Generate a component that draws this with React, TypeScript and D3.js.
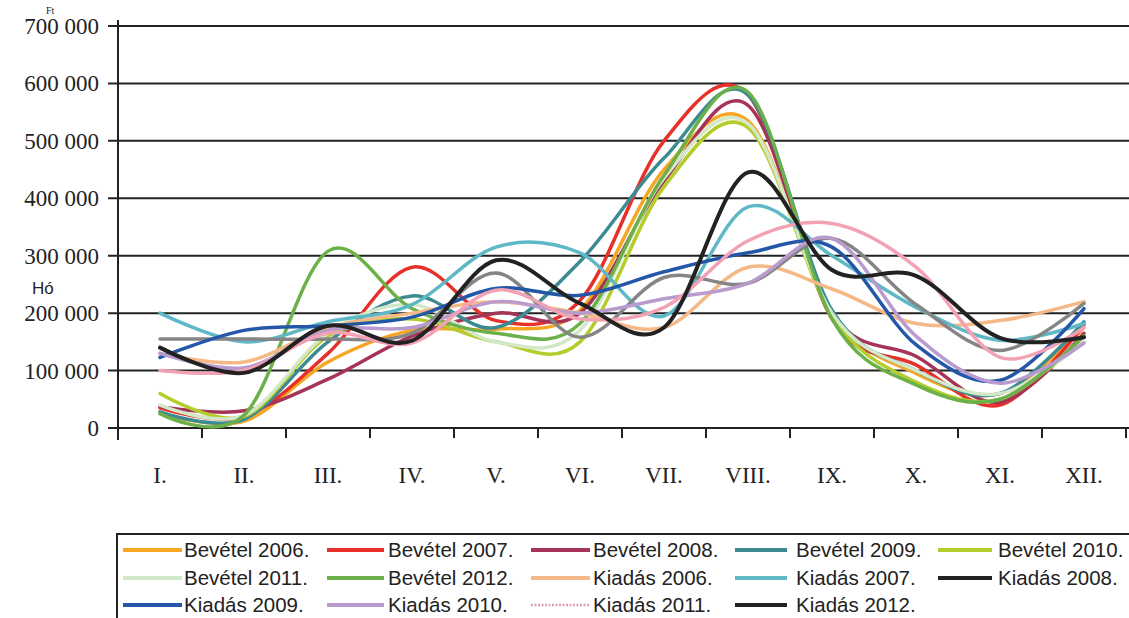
import React from "react";
import * as d3 from "d3";

const months = ["I.", "II.", "III.", "IV.", "V.", "VI.", "VII.", "VIII.", "IX.", "X.", "XI.", "XII."];
const yTicks = [0, 100000, 200000, 300000, 400000, 500000, 600000, 700000];

const seriesNames = [
  "Bevétel 2006.", "Bevétel 2007.", "Bevétel 2008.", "Bevétel 2009.", "Bevétel 2010.",
  "Bevétel 2011.", "Bevétel 2012.", "Kiadás 2006.", "Kiadás 2007.", "Kiadás 2008.",
  "Kiadás 2009.", "Kiadás 2010.", "Kiadás 2011.", "Kiadás 2012.",
];

const bevetel2006 = [25000, 12000, 115000, 170000, 172000, 205000, 450000, 535000, 200000, 95000, 60000, 175000];
const bevetel2007 = [35000, 20000, 130000, 280000, 187000, 222000, 500000, 580000, 190000, 110000, 40000, 180000];
const bevetel2008 = [37000, 30000, 85000, 160000, 200000, 200000, 430000, 562000, 200000, 125000, 45000, 165000];
const bevetel2009 = [28000, 15000, 150000, 230000, 175000, 290000, 470000, 580000, 205000, 100000, 60000, 185000];
const bevetel2010 = [60000, 20000, 160000, 190000, 150000, 150000, 420000, 523000, 195000, 80000, 50000, 160000];
const bevetel2011 = [40000, 22000, 165000, 215000, 150000, 170000, 435000, 530000, 200000, 100000, 60000, 150000];
const bevetel2012 = [25000, 22000, 308000, 208000, 165000, 182000, 440000, 585000, 190000, 75000, 50000, 160000];
const kiadas2006 = [130000, 115000, 175000, 200000, 220000, 200000, 175000, 280000, 242000, 182000, 187000, 220000];
const kiadas2007 = [200000, 150000, 185000, 215000, 315000, 305000, 195000, 385000, 300000, 210000, 153000, 182000];
const kiadas2008 = [155000, 155000, 155000, 165000, 270000, 158000, 262000, 252000, 330000, 215000, 135000, 217000];
const kiadas2009 = [123000, 170000, 178000, 193000, 243000, 231000, 272000, 305000, 315000, 145000, 83000, 208000];
const kiadas2010 = [130000, 105000, 170000, 175000, 220000, 200000, 225000, 252000, 330000, 160000, 78000, 148000];
const kiadas2011 = [100000, 100000, 165000, 148000, 240000, 190000, 210000, 326000, 356000, 280000, 123000, 175000];
const kiadas2012 = [140000, 96000, 178000, 152000, 292000, 217000, 175000, 445000, 275000, 265000, 157000, 158000];

const seriesValues = [
  bevetel2006, bevetel2007, bevetel2008, bevetel2009, bevetel2010, bevetel2011, bevetel2012,
  kiadas2006, kiadas2007, kiadas2008, kiadas2009, kiadas2010, kiadas2011, kiadas2012,
];

const seriesColors = [
  "#f6a623", "#e8302a", "#a53457", "#3d8b92", "#b4cc2c", "#d3e8c8", "#6cb04a",
  "#f5b987", "#5fb8c6", "#858585", "#2457a8", "#b99bd0", "#f2a2b4", "#222222",
];
const legendColors = [
  "#f6a623", "#e8302a", "#a53457", "#3d8b92", "#b4cc2c", "#d3e8c8", "#6cb04a",
  "#f5b987", "#5fb8c6", "#222222", "#2457a8", "#b99bd0", "#e0a0b0", "#222222",
];
const seriesWidths = [3.5, 3.5, 3.5, 3.5, 3.5, 3.5, 3.5, 3.5, 3.5, 3.5, 3.5, 3.5, 3.5, 4];

export default function App() {
  const W = 1129;
  const H = 618;
  const x = d3.scaleBand<string>().domain(months).range([118, 1126]).padding(0);
  const y = d3.scaleLinear().domain([0, 700000]).range([428, 26]);
  const cx = (m: string) => (x(m) as number) + x.bandwidth() / 2;

  const line = d3
    .line<number>()
    .x((_, i) => cx(months[i]))
    .y((v) => y(v))
    .curve(d3.curveCardinal.tension(0));

  const fmt = (v: number) => (v === 0 ? "0" : d3.format(",")(v).replace(/,/g, " "));

  const boundaries = months.map((m) => x(m) as number).concat([1126]);

  const legendCols = [
    { lx1: 123, lx2: 182, tx: 184 },
    { lx1: 327, lx2: 384, tx: 388 },
    { lx1: 531, lx2: 590, tx: 593 },
    { lx1: 735, lx2: 787, tx: 796 },
    { lx1: 938, lx2: 992, tx: 998 },
  ];
  const legendRows = [550, 578, 605];

  return (
    <svg width={W} height={H} style={{ position: "absolute", left: 0, top: 0, background: "#fff" }}>
      <rect x={0} y={0} width={W} height={H} fill="#fff" />
      {yTicks.map((t) => (
        <line key={"g" + t} x1={108} x2={W} y1={y(t)} y2={y(t)} stroke="#222" strokeWidth={2} />
      ))}
      <line x1={118} x2={118} y1={20} y2={440} stroke="#222" strokeWidth={2} />
      {boundaries.map((b, i) => (
        <line key={"t" + i} x1={b} x2={b} y1={428} y2={438} stroke="#222" strokeWidth={2} />
      ))}
      {yTicks.map((t) => (
        <text key={"yl" + t} x={99} y={y(t) + 8} textAnchor="end" fontFamily="'Liberation Serif', 'Times New Roman', serif" fontSize={23} fill="#222">
          {fmt(t)}
        </text>
      ))}
      <text x={46} y={14} fontFamily="'Liberation Serif', serif" fontSize={10} fill="#222">Ft</text>
      <text x={32} y={294} fontFamily="'Liberation Sans', Arial, sans-serif" fontSize={17} fill="#222">Hó</text>
      {months.map((m) => (
        <text key={"xl" + m} x={cx(m)} y={483} textAnchor="middle" fontFamily="'Liberation Serif', 'Times New Roman', serif" fontSize={23} fill="#222">
          {m}
        </text>
      ))}
      {seriesValues.map((vals, i) => (
        <path key={"s" + i} d={line(vals) || ""} fill="none" stroke={seriesColors[i]} strokeWidth={seriesWidths[i]} strokeLinecap="round" strokeLinejoin="round" />
      ))}
      <rect x={117} y={534} width={W} height={H} fill="none" stroke="#222" strokeWidth={2} />
      {seriesNames.map((name, i) => {
        const col = legendCols[i % 5];
        const ry = legendRows[Math.floor(i / 5)];
        return (
          <g key={"lg" + i}>
            <line x1={col.lx1} x2={col.lx2} y1={ry} y2={ry} stroke={legendColors[i]} strokeWidth={i === 12 ? 2.5 : 4} strokeDasharray={i === 12 ? "2,1.5" : undefined} />
            <text x={col.tx} y={ry + 7} fontFamily="'Liberation Sans', Arial, sans-serif" fontSize={20.5} fill="#222">
              {name}
            </text>
          </g>
        );
      })}
    </svg>
  );
}
